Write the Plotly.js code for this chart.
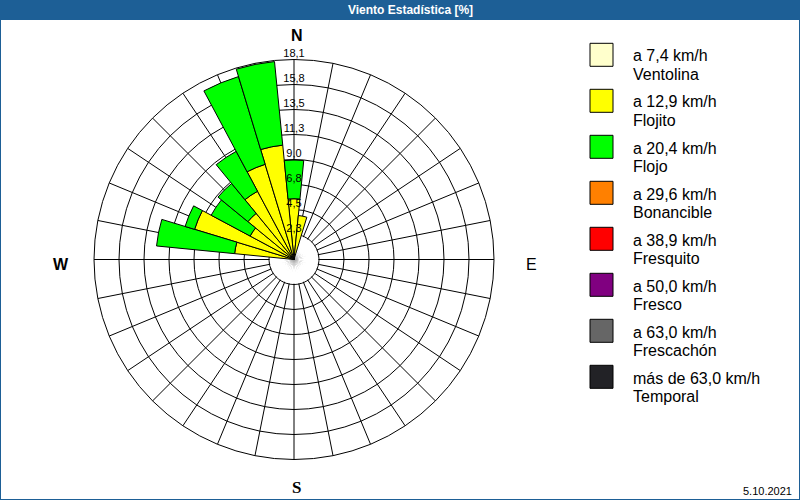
<!DOCTYPE html>
<html>
<head>
<meta charset="utf-8">
<script src="https://cdn.plot.ly/plotly-3.0.1.min.js"></script>
<style>html,body{margin:0;padding:0;background:#fff;}#chart{width:800px;height:500px;}</style>
</head>
<body>
<div id="chart"></div>
<script>
// 32 compass directions, clockwise from North
const directions = ['N','NbE','NNE','NEbN','NE','NEbE','ENE','EbN','E','EbS','ESE','SEbE','SE','SEbS','SSE','SbE',
                    'S','SbW','SSW','SWbS','SW','SWbW','WSW','WbS','W','WbN','WNW','NWbW','NW','NWbN','NNW','NbW'];
// frequency [%] per speed class and direction
const ventolina  = [0,0,0,0,0,0,0,0,0,0,0,0,0,0,0,0, 0,0,0,0,0,0,0,0,0,0,0,0,0,0,0,0];
const flojito    = [5.5,4.0,0,0,0,0,0,0,0,0,0,0,0,0,0,0, 0,0,0,0,0,0,0,0,0,5.4,9.4,4.5,5.4,7.0,9.0,10.4];
const flojo      = [3.5,0,0,0,0,0,0,0,0,0,0,0,0,0,0,0, 0,0,0,0,0,0,0,0,0,7.1,0.9,4.0,3.5,4.1,8.3,7.6];
const bonancible = [0,0,0,0,0,0,0,0,0,0,0,0,0,0,0,0, 0,0,0,0,0,0,0,0,0,0,0,0,0,0,0,0];
const fresquito  = [0,0,0,0,0,0,0,0,0,0,0,0,0,0,0,0, 0,0,0,0,0,0,0,0,0,0,0,0,0,0,0,0];
const fresco     = [0,0,0,0,0,0,0,0,0,0,0,0,0,0,0,0, 0,0,0,0,0,0,0,0,0,0,0,0,0,0,0,0];
const frescachon = [0,0,0,0,0,0,0,0,0,0,0,0,0,0,0,0, 0,0,0,0,0,0,0,0,0,0,0,0,0,0,0,0];
const temporal   = [0,0,0,0,0,0,0,0,0,0,0,0,0,0,0,0, 0,0,0,0,0,0,0,0,0,0,0,0,0,0,0,0];

const classSpeeds = ['a 7,4 km/h','a 12,9 km/h','a 20,4 km/h','a 29,6 km/h','a 38,9 km/h','a 50,0 km/h','a 63,0 km/h','más de 63,0 km/h'];
const classNames  = ['Ventolina','Flojito','Flojo','Bonancible','Fresquito','Fresco','Frescachón','Temporal'];
const classColors = ['#FFFFCC','#FFFF00','#00FF00','#FF8000','#FF0000','#800080','#666666','#222226'];

const radialMax = 18.1;
const ringValues = [2.2625, 4.525, 6.7875, 9.05, 11.3125, 13.575, 15.8375, 18.1];
const ringLabels = ['2,3','4,5','6,8','9,0','11,3','13,5','15,8','18,1'];
const compassLabels = ['N','E','S','W'];
const chartTitle = 'Viento Estadística [%]';
const chartDate = '5.10.2021';

const series = [ventolina, flojito, flojo, bonancible, fresquito, fresco, frescachon, temporal];

const W = 800, H = 500;
const px = x => x / W;
const py = y => 1 - y / H;
const blue = '#1d5f96';

const traces = [];
// white disc hiding the spokes inside the first ring
traces.push({
  type: 'barpolar', theta: directions, r: directions.map(() => ringValues[0] - 0.07),
  marker: {color: '#ffffff', line: {width: 0}}, showlegend: false, hoverinfo: 'skip'
});
const cum = directions.map(() => 0);
series.forEach((vals, i) => {
  const th = [], rr = [], bb = [];
  vals.forEach((v, k) => {
    if (v > 0) { th.push(directions[k]); rr.push(v); bb.push(cum[k]); }
  });
  if (th.length) {
    traces.push({
      type: 'barpolar', name: classNames[i], theta: th, r: rr, base: bb,
      marker: {color: classColors[i], line: {color: '#000', width: 1}},
      showlegend: false
    });
  }
  vals.forEach((v, k) => { cum[k] += v; });
});
// ring labels along the North axis
traces.push({
  type: 'scatterpolar', mode: 'text', theta: ringValues.map(() => 'N'), r: ringValues,
  text: ringLabels, textposition: 'top center',
  textfont: {family: 'Liberation Sans, Arial, sans-serif', size: 11, color: '#000'},
  showlegend: false, hoverinfo: 'skip', cliponaxis: false
});

const shapes = [
  {type: 'rect', xref: 'paper', yref: 'paper', x0: 0, x1: 1, y0: py(20), y1: 1, fillcolor: blue, line: {width: 0}, layer: 'below'},
  {type: 'rect', xref: 'paper', yref: 'paper', x0: 0, x1: 1, y0: 0, y1: 1, line: {color: blue, width: 2}, layer: 'above'}
];
const annotations = [];
classNames.forEach((n, i) => {
  const top = 43.3 + 46 * i;
  shapes.push({type: 'rect', xref: 'paper', yref: 'paper', x0: px(590), x1: px(613), y0: py(top + 23), y1: py(top),
               fillcolor: classColors[i], line: {color: '#000', width: 1}});
  annotations.push({xref: 'paper', yref: 'paper', x: px(631), y: py(56 + 46 * i), xanchor: 'left', yanchor: 'middle',
                    text: classSpeeds[i], showarrow: false, font: {family: 'Liberation Sans, Arial, sans-serif', size: 16, color: '#000'}});
  annotations.push({xref: 'paper', yref: 'paper', x: px(631), y: py(74.4 + 46 * i), xanchor: 'left', yanchor: 'middle',
                    text: n, showarrow: false, font: {family: 'Liberation Sans, Arial, sans-serif', size: 16, color: '#000'}});
});
const compassPos = [[296.5, 36], [531, 264], [296.5, 487.5], [61, 264]];
const compassFonts = [
  {family: 'Liberation Sans, Arial, sans-serif', size: 16, color: '#000', weight: 'bold'},
  {family: 'Liberation Sans, Arial, sans-serif', size: 16, color: '#000'},
  {family: 'Liberation Serif, Times New Roman, serif', size: 17, color: '#000', weight: 'bold'},
  {family: 'Liberation Sans, Arial, sans-serif', size: 16, color: '#000', weight: 'bold'}
];
compassLabels.forEach((c, i) => {
  annotations.push({xref: 'paper', yref: 'paper', x: px(compassPos[i][0]), y: py(compassPos[i][1]),
                    xanchor: 'center', yanchor: 'middle', text: c, showarrow: false, font: compassFonts[i]});
});
annotations.push({xref: 'paper', yref: 'paper', x: px(794), y: py(491), xanchor: 'right', yanchor: 'middle',
                  text: chartDate, showarrow: false, font: {family: 'Liberation Sans, Arial, sans-serif', size: 11, color: '#000'}});

const layout = {
  width: W, height: H,
  margin: {l: 0, r: 0, t: 0, b: 0},
  paper_bgcolor: '#ffffff',
  showlegend: false,
  title: {text: chartTitle, x: px(410.5), xanchor: 'center', y: py(10), yanchor: 'middle', yref: 'container',
          font: {family: 'Liberation Sans, Arial, sans-serif', size: 12, color: '#ffffff', weight: 'bold'}},
  polar: {
    domain: {x: [px(94), px(494)], y: [py(459.5), py(59.5)]},
    bgcolor: '#ffffff',
    barmode: 'overlay',
    bargap: 0,
    radialaxis: {range: [0, radialMax], tickvals: ringValues, showticklabels: false, ticks: '',
                 showline: false, gridcolor: '#000', gridwidth: 1},
    angularaxis: {type: 'category', categoryorder: 'array', categoryarray: directions,
                  rotation: 90, direction: 'clockwise', showticklabels: false, ticks: '',
                  showline: true, linecolor: '#000', linewidth: 1, gridcolor: '#000', gridwidth: 1}
  },
  shapes: shapes,
  annotations: annotations
};

Plotly.newPlot('chart', traces, layout, {staticPlot: true, displayModeBar: false});
</script>
</body>
</html>
